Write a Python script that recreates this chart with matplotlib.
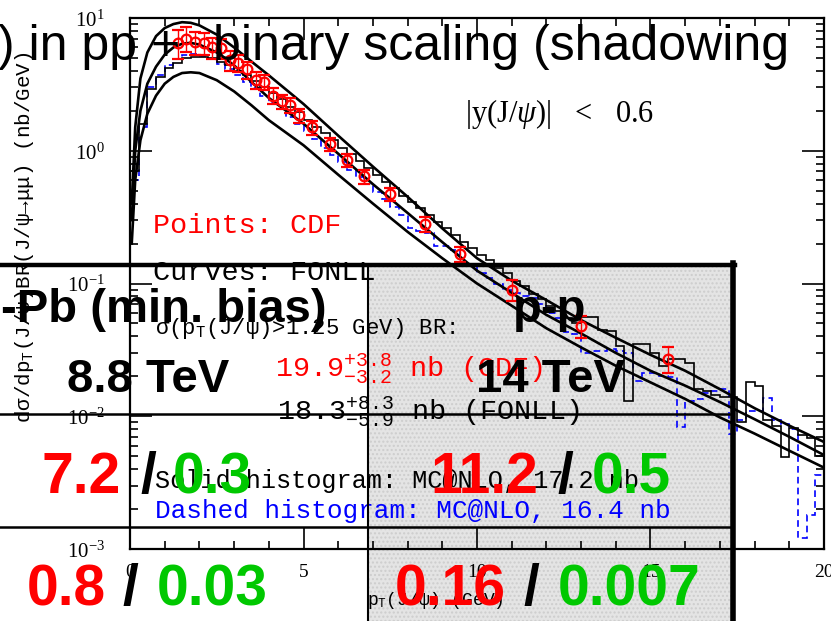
import numpy as np
import matplotlib
matplotlib.use("Agg")
import matplotlib.pyplot as plt
import matplotlib.ticker as ticker
from matplotlib.patches import Rectangle

W, H = 831, 621

plt.rcParams["mathtext.fontset"] = "custom"
plt.rcParams["mathtext.rm"] = "Liberation Serif"
plt.rcParams["mathtext.it"] = "Liberation Serif:italic"
plt.rcParams["mathtext.tt"] = "Liberation Mono"

# FONLL band, nb/GeV
fonll_pt = [0.05, 0.15, 0.3, 0.5, 0.75, 1.0, 1.25, 1.5, 1.75, 2.0, 2.5, 3.0, 3.5, 4.0,
            5.0, 6.0, 7.0, 8.0, 9.0, 10.0, 11.0, 12.0, 13.0, 14.0, 15.0, 16.0, 17.0,
            18.0, 19.0, 20.0]
fonll_up = [0.4, 1.5, 3.5, 5.5, 7.3, 8.4, 9.0, 9.3, 9.2, 8.8, 7.5, 6.0, 4.7, 3.7,
            2.25, 1.3, 0.76, 0.45, 0.26, 0.155, 0.105, 0.075, 0.053, 0.039, 0.029,
            0.022, 0.016, 0.0115, 0.0085, 0.0064]
fonll_mid = [0.3, 1.0, 2.0, 3.2, 4.3, 5.3, 6.0, 6.4, 6.5, 6.3, 5.5, 4.4, 3.3, 2.5,
             1.6, 0.95, 0.56, 0.34, 0.205, 0.125, 0.085, 0.058, 0.042, 0.030, 0.022,
             0.017, 0.0128, 0.0095, 0.007, 0.0051]
fonll_lo = [0.2, 0.6, 1.2, 1.9, 2.6, 3.2, 3.6, 3.85, 3.9, 3.85, 3.4, 2.8, 2.2, 1.7,
            1.1, 0.66, 0.40, 0.245, 0.155, 0.10, 0.068, 0.046, 0.033, 0.024, 0.018,
            0.0135, 0.0098, 0.0074, 0.0055, 0.0041]

# MC@NLO histograms, 0.25 GeV bins from 0 to 20
bin_width = 0.25
mc_solid = [0.7, 1.6, 2.9, 3.6, 4.2, 4.6, 5.0, 5.1, 5.1, 5.0, 4.7, 4.4, 4.0, 3.7,
            3.35, 3.0, 2.7, 2.45, 2.15, 1.95, 1.7, 1.5, 1.35, 1.2, 1.05, 0.95, 0.84,
            0.74, 0.66, 0.58, 0.52, 0.46, 0.41, 0.37, 0.33, 0.29, 0.26, 0.23, 0.205,
            0.185, 0.165, 0.15, 0.13, 0.12, 0.105, 0.095, 0.084, 0.076, 0.068, 0.062,
            0.055, 0.05, 0.056, 0.056, 0.045, 0.044, 0.034, 0.013, 0.035, 0.035,
            0.030, 0.024, 0.027, 0.027, 0.025, 0.016, 0.0155, 0.0145, 0.014, 0.014,
            0.009, 0.018, 0.017, 0.0093, 0.0085, 0.0049, 0.0082, 0.0072, 0.0068, 0.005]
mc_dashed = [0.6, 1.5, 3.0, 3.7, 4.4, 4.9, 5.3, 5.4, 5.2, 4.9, 4.5, 4.1, 3.7, 3.3,
             2.95, 2.6, 2.3, 2.05, 1.8, 1.6, 1.4, 1.22, 1.05, 0.93, 0.82, 0.72, 0.63,
             0.56, 0.49, 0.43, 0.38, 0.33, 0.26, 0.25, 0.24, 0.19, 0.19, 0.18, 0.14,
             0.135, 0.12, 0.11, 0.10, 0.09, 0.085, 0.08, 0.078, 0.07, 0.06, 0.055,
             0.043, 0.042, 0.030, 0.031, 0.031, 0.032, 0.031, 0.030, 0.0185, 0.021,
             0.021, 0.020, 0.0196, 0.0083, 0.013, 0.0135, 0.015, 0.0155, 0.016,
             0.0074, 0.0093, 0.011, 0.011, 0.0138, 0.0093, 0.0088, 0.0080, 0.0012,
             0.0018, 0.0036]

# CDF data points
cdf_pt = [1.375, 1.625, 1.875, 2.125, 2.375, 2.625, 2.875, 3.125, 3.375, 3.625,
          3.875, 4.125, 4.375, 4.625, 4.875, 5.25, 5.75, 6.25, 6.75, 7.5, 8.5, 9.5,
          11.0, 13.0, 15.5]
cdf_val = [6.5, 7.0, 6.6, 6.5, 6.0, 5.9, 4.8, 4.6, 4.1, 3.4, 3.3, 2.6, 2.35, 2.2,
           1.85, 1.5, 1.12, 0.85, 0.64, 0.47, 0.28, 0.166, 0.090, 0.048, 0.027]
cdf_err = [1.6, 1.5, 1.3, 1.2, 1.1, 1.0, 0.8, 0.7, 0.6, 0.5, 0.45, 0.35, 0.3, 0.28,
           0.22, 0.18, 0.13, 0.1, 0.075, 0.055, 0.035, 0.022, 0.016, 0.009, 0.006]

ytick_vals = [1e-3, 1e-2, 1e-1, 1e0, 1e1]
ytick_labels = [r"$10^{-3}$", r"$10^{-2}$", r"$10^{-1}$", r"$10^{0}$", r"$10^{1}$"]

RED = "#ff0000"
GREEN = "#00c800"
BLUE = "#0000ff"

fig = plt.figure(figsize=(W / 100, H / 100), dpi=100)

# background: gray table cell
bg = fig.add_axes([0, 0, 1, 1], zorder=0)
bg.set_xlim(0, W)
bg.set_ylim(H, 0)
bg.axis("off")
bg.add_patch(Rectangle((368, 265), 733 - 368, H - 265, facecolor="#e4e4e4",
                       edgecolor="#cdcdcd", hatch="....", lw=0))

# main plot
ax = fig.add_axes([130 / W, (H - 549) / H, (824 - 130) / W, (549 - 18) / H], zorder=1)
ax.set_facecolor("none")
ax.set_yscale("log")
ax.set_xlim(0, 20)
ax.set_ylim(1e-3, 10)

edges = np.arange(len(mc_solid) + 1) * bin_width
ax.stairs(mc_dashed, edges, baseline=1e-5, color=BLUE, lw=1.2, ls=(0, (4, 2.5)))
ax.stairs(mc_solid, edges, baseline=None, color="black", lw=1.2)

for curve in (fonll_up, fonll_mid, fonll_lo):
    ax.plot(fonll_pt, curve, color="black", lw=1.9)

ax.errorbar(cdf_pt, cdf_val, yerr=cdf_err, fmt="o", color=RED, mfc="none", mew=1.6,
            ms=7, capsize=4, elinewidth=1.0, capthick=1.0, zorder=5)

ax.xaxis.set_major_locator(ticker.MultipleLocator(5))
ax.xaxis.set_minor_locator(ticker.MultipleLocator(1))
ax.set_yticks(ytick_vals)
ax.set_yticklabels(ytick_labels)
ax.yaxis.set_minor_locator(ticker.LogLocator(base=10, subs=np.arange(2, 10)))
ax.yaxis.set_minor_formatter(ticker.NullFormatter())
ax.tick_params(which="both", direction="in", top=True, right=True, width=1.2)
ax.tick_params(which="major", length=16)
ax.tick_params(which="minor", length=6)
ax.tick_params(axis="y", pad=18, labelsize=15)
ax.tick_params(axis="x", pad=11, labelsize=14)
for lab in ax.get_xticklabels():
    lab.set_family("Liberation Serif")
for s in ax.spines.values():
    s.set_linewidth(1.6)

# overlay: plot annotations, table lines and slide text
ov = fig.add_axes([0, 0, 1, 1], zorder=3)
ov.set_xlim(0, W)
ov.set_ylim(H, 0)
ov.axis("off")
ov.set_facecolor("none")

mono = ["Liberation Mono", "DejaVu Sans Mono"]
ov.text(465, 122, r"|y(J/$\it{ψ}$)|   <   0.6", fontsize=22, family="Liberation Serif",
        va="baseline")
ov.text(153, 233, "Points: CDF", color=RED, fontsize=20.5, family=mono, va="baseline")
ov.text(153, 280, "Curves: FONLL", color="black", fontsize=20.5, family=mono, va="baseline")
ov.text(155, 334, r"σ(p$_\mathtt{T}$(J/ψ)>1.25 GeV) BR:", fontsize=16, family=mono,
        va="baseline")
ov.text(275, 377, r"19.9$^{\mathtt{+3.8}}_{\mathtt{-3.2}}$ nb (CDF)", color=RED,
        fontsize=20.5, family=mono, va="baseline")
ov.text(277, 420, r"18.3$^{\mathtt{+8.3}}_{\mathtt{-5.9}}$ nb (FONLL)", color="black",
        fontsize=20.5, family=mono, va="baseline")
ov.text(155, 488, "Solid histogram: MC@NLO, 17.2 nb", color="black", fontsize=18.2,
        family=mono, va="baseline")
ov.text(155, 518, "Dashed histogram: MC@NLO, 16.4 nb", color=BLUE, fontsize=18.8,
        family=mono, va="baseline")
ov.text(25, 237, r"dσ/dp$_\mathtt{T}$(J/ψ)BR(J/ψ→μμ) (nb/GeV)", rotation=90,
        fontsize=15, family=mono, ha="center", va="center")
ov.text(435, 605, r"p$_\mathtt{T}$(J/ψ) (GeV)", fontsize=13, family=mono, ha="center",
        va="baseline")

# table grid
ov.plot([0, 735], [265, 265], color="black", lw=3.2, zorder=4)
ov.plot([733, 733], [263, H], color="black", lw=4.0, zorder=4)
ov.plot([368, 368], [265, H], color="black", lw=1.5, zorder=4)
ov.plot([0, 733], [414, 414], color="black", lw=1.8, zorder=4)
ov.plot([0, 733], [527, 527], color="black", lw=1.8, zorder=4)

# slide title (clipped at the left edge)
ov.text(-2, 60, ") in pp +", fontsize=36, family="Liberation Sans", va="baseline", zorder=6)
ov.text(213, 60, "binary scaling (shadowing", fontsize=36, family="Liberation Sans",
        va="baseline", zorder=6)

big = dict(family="Liberation Sans", weight="bold", va="baseline", zorder=6)
ov.text(327, 322, "-Pb (min. bias)", fontsize=34, ha="right", **big)
ov.text(148, 392, "8.8 TeV", fontsize=34, ha="center", **big)
ov.text(550, 322, "p-p", fontsize=34, ha="center", **big)
ov.text(550, 392, "14 TeV", fontsize=34, ha="center", **big)

ov.text(42, 493, "7.2", fontsize=41, color=RED, **big)
ov.text(140, 493, "/", fontsize=41, color="black", **big)
ov.text(173, 493, "0.3", fontsize=41, color=GREEN, **big)
ov.text(430, 493, "11.2", fontsize=41, color=RED, **big)
ov.text(557, 493, "/", fontsize=41, color="black", **big)
ov.text(592, 493, "0.5", fontsize=41, color=GREEN, **big)

ov.text(27, 605, "0.8", fontsize=41, color=RED, **big)
ov.text(122, 605, "/", fontsize=41, color="black", **big)
ov.text(157, 605, "0.03", fontsize=41, color=GREEN, **big)
ov.text(395, 605, "0.16", fontsize=41, color=RED, **big)
ov.text(523, 605, "/", fontsize=41, color="black", **big)
ov.text(558, 605, "0.007", fontsize=41, color=GREEN, **big)

fig.savefig("out.png", dpi=100)
